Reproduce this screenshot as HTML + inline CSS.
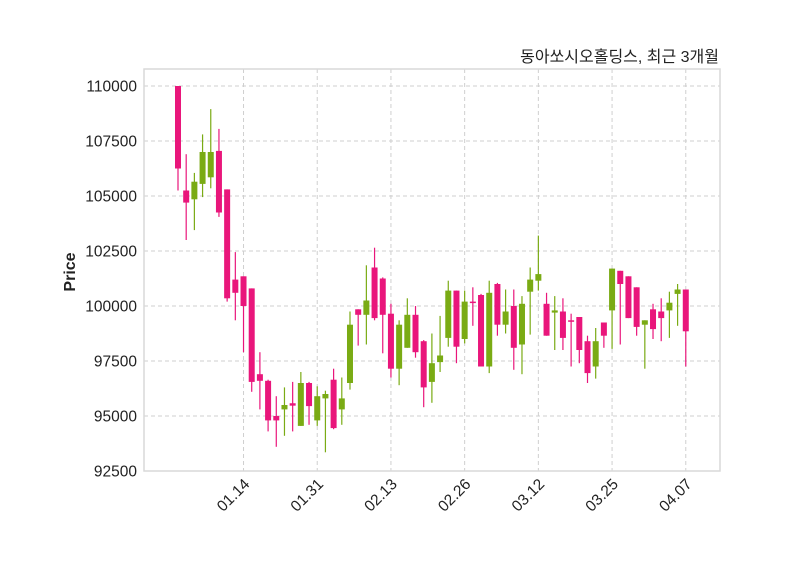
<!DOCTYPE html>
<html><head><meta charset="utf-8"><style>
body{margin:0;background:#fff;}
svg{display:block;font-family:"Liberation Sans","Noto Sans CJK KR",sans-serif;}
</style></head><body>
<svg width="800" height="575" viewBox="0 0 800 575" id="chart">
<rect x="0" y="0" width="800" height="575" fill="#fff"/>
<text x="719" y="62" text-anchor="end" font-size="16" fill="#222">동아쏘시오홀딩스, 최근 3개월</text>
<text transform="translate(75,272) rotate(-90)" text-anchor="middle" font-size="16" font-weight="bold" fill="#222">Price</text>
<g id="grid"></g>
<g id="candles"></g>
<rect x="144" y="69" width="576" height="402" fill="none" stroke="#d9d9d9" stroke-width="1.5"/>
<g id="axes"></g>
</svg>
<script>
const opens  = [110000,105250,104850,105550,105850,107050,105300,101200,101350,100800,96900,96600,95000,95300,95580,94550,96500,94800,95800,96650,95300,96500,99850,99600,101750,101250,99650,97150,98100,99600,98400,96550,97450,98550,100700,98500,100200,100500,97250,101000,99150,100000,98250,100650,101150,100100,99700,99750,99350,99500,98400,97250,99250,99800,101600,101350,100850,99150,99850,99750,99800,100550,100750];
const closes = [106250,104700,105650,107000,107000,104250,100350,100600,100000,96550,96600,94800,94800,95500,95470,96500,95450,95900,96000,94450,95800,99150,99600,100250,99450,99600,97150,99150,99600,97900,96300,97400,97750,100700,98150,100200,100150,97250,100600,99150,99750,98100,100100,101200,101450,98650,99800,98550,99300,98000,96950,98400,98650,101700,101000,99450,99050,99350,98950,99450,100150,100750,98850];
const highs  = [110000,106900,106050,107800,108950,108050,105300,102450,101350,100800,97900,96650,95900,96300,96550,97000,96550,96350,96150,97150,96750,99750,99850,101850,102650,101300,100100,99350,100350,100000,98450,98750,99550,101150,100700,100700,100850,100550,101150,101050,100750,100750,100450,101750,103200,100600,100450,100350,99650,99500,98650,99000,99250,101700,101600,101350,100850,99350,100100,100350,100650,101000,100750];
const lows   = [105250,103000,103450,104950,105350,104050,100200,99350,97900,96100,95300,94300,93600,94100,94300,94550,94600,94550,93350,94400,94600,96200,98200,98250,99350,97850,96750,96400,98100,97650,95400,95600,97000,98150,97400,98300,99100,97250,96950,98650,98750,97100,96900,98700,100700,98650,98000,98000,97250,97400,96500,96700,98100,98050,98250,99450,98650,97150,98500,98400,98550,99100,97250];
const yTicks = [92500,95000,97500,100000,102500,105000,107500,110000];
const xTickIdx = [8,17,26,35,44,53,62];
const xTickLabels = ["01.14","01.31","02.13","02.26","03.12","03.25","04.07"];

const NS="http://www.w3.org/2000/svg";
const yMin=92500, yMax=110000, yBot=471, yTop=86;
function yScale(v){return yBot-(v-yMin)/(yMax-yMin)*(yBot-yTop);}
function xScale(i){return 178+i*8.19;}
function mk(tag,attrs,parent){const e=document.createElementNS(NS,tag);for(const k in attrs)e.setAttribute(k,attrs[k]);parent.appendChild(e);return e;}
const grid=document.getElementById('grid'), axes=document.getElementById('axes'), cg=document.getElementById('candles');
yTicks.forEach(function(t){
  const y=yScale(t);
  const l=mk('line',{x1:144,x2:720,y1:y,y2:y,stroke:'#cfcfcf','stroke-dasharray':'4,3','stroke-width':1},grid);
  
  
  const tx=mk('text',{x:137,y:y+5.5,'text-anchor':'end','font-size':15.5,fill:'#222'},axes);
  tx.textContent=t;
  
  
});
xTickIdx.forEach(function(idx,k){
  const x=xScale(idx);
  const l=mk('line',{x1:x,x2:x,y1:69,y2:471,stroke:'#cfcfcf','stroke-dasharray':'4,3','stroke-width':1},grid);
  
  
  const tx=mk('text',{x:x+7,y:485,'text-anchor':'end','font-size':15.5,fill:'#222',transform:'rotate(-45 '+(x+7)+' 485)'},axes);
  tx.textContent=xTickLabels[k];
  
  
});
for(let i=0;i<opens.length;i++){
  const up=closes[i]>=opens[i];
  const col=up?'#7aab14':'#e9167b';
  const x=xScale(i);
  const g=mk('g',{},cg);
  
  
  mk('line',{x1:x,x2:x,y1:yScale(highs[i]),y2:yScale(lows[i]),stroke:col,'stroke-width':1.2},g);
  const top=yScale(Math.max(opens[i],closes[i])), bot=yScale(Math.min(opens[i],closes[i]));
  mk('rect',{x:x-3,y:top,width:6,height:Math.max(bot-top,1.5),fill:col},g);
}
</script>
</body></html>
